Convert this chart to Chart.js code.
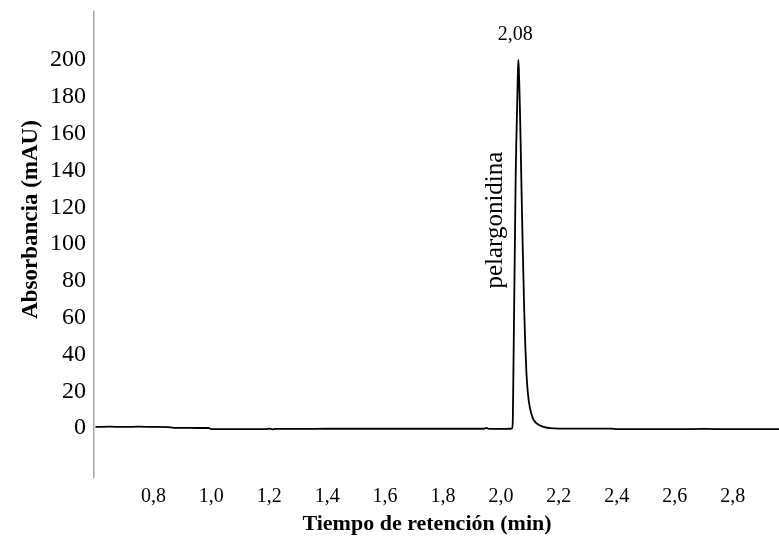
<!DOCTYPE html>
<html>
<head>
<meta charset="utf-8">
<script src="https://cdn.jsdelivr.net/npm/chart.js@4.4.0/dist/chart.umd.min.js"></script>
<style>
  html, body { margin: 0; padding: 0; background: #ffffff; }
  #wrap { width: 779px; height: 544px; position: relative; }
</style>
</head>
<body>
<div id="wrap"><canvas id="c" width="779" height="544"></canvas></div>
<script>
// Retention time (min)
const retentionTimes = [
  0.600, 0.650, 0.700, 0.750, 0.800, 0.850, 0.870, 0.900, 0.950, 0.990, 1.000,
  1.100, 1.190, 1.200, 1.210, 1.220, 1.300, 1.400, 1.500, 1.600, 1.700, 1.800,
  1.900, 1.940, 1.950, 1.960, 2.000, 2.030, 2.039, 2.041, 2.043, 2.045, 2.047,
  2.049, 2.051, 2.053, 2.056, 2.058, 2.060, 2.062, 2.064, 2.066, 2.068, 2.070,
  2.072, 2.075, 2.080, 2.084, 2.088, 2.093, 2.100, 2.110, 2.120, 2.135, 2.150,
  2.170, 2.200, 2.300, 2.380, 2.400, 2.500, 2.600, 2.700, 2.800, 2.900, 2.960
];
// Absorbance (mAU)
const absorbance = [
  0.7, 0.8, 0.7, 0.8, 0.7, 0.6, 0.2, 0.2, 0.1, 0.1, -0.5,
  -0.5, -0.5, -0.2, -0.6, -0.4, -0.4, -0.3, -0.3, -0.3, -0.3, -0.3,
  -0.3, -0.3, 0.1, -0.4, -0.4, -0.3, 0.0, 5, 30, 58, 85,
  112, 138, 155, 175, 190, 200, 194, 183, 170, 155, 138,
  122, 100, 66, 45, 30, 19, 11, 5.5, 3, 1.5, 0.6,
  0.0, -0.2, -0.2, -0.2, -0.5, -0.5, -0.5, -0.4, -0.5, -0.5, -0.5
];
// Axis ticks
const xTicks = [0.8, 1.0, 1.2, 1.4, 1.6, 1.8, 2.0, 2.2, 2.4, 2.6, 2.8];
const yTicks = [0, 20, 40, 60, 80, 100, 120, 140, 160, 180, 200];
// Texts
const peakLabel = '2,08';
const compoundName = 'pelargonidina';
const xTitle = 'Tiempo de retención (min)';
const yTitle = 'Absorbancia (mAU)';

const points = retentionTimes.map((t, i) => ({ x: t, y: absorbance[i] }));
const serif = '"Liberation Serif", "Times New Roman", serif';

const annotatePlugin = {
  id: 'annotate',
  afterDatasetsDraw(chart) {
    const { ctx, scales, chartArea } = chart;
    let iMax = 0;
    absorbance.forEach((v, i) => { if (v > absorbance[iMax]) iMax = i; });
    const px = scales.x.getPixelForValue(retentionTimes[iMax]);
    const py = scales.y.getPixelForValue(absorbance[iMax]);
    ctx.save();
    ctx.fillStyle = '#000';
    // peak retention time label
    ctx.font = '20px ' + serif;
    ctx.textAlign = 'center';
    ctx.textBaseline = 'middle';
    ctx.fillText(peakLabel, px - 3, py - 25);
    // compound name, rotated
    ctx.save();
    const midY = scales.y.getPixelForValue(absorbance[iMax] * 0.565);
    ctx.translate(px - 23, midY);
    ctx.rotate(-Math.PI / 2);
    ctx.font = '25px ' + serif;
    ctx.fillText(compoundName, 0, 0);
    ctx.restore();
    // axis titles
    ctx.font = 'bold 22px ' + serif;
    ctx.textBaseline = 'middle';
    ctx.fillText(xTitle, chartArea.left + 333, chartArea.bottom + 47);
    ctx.save();
    ctx.translate(chartArea.left - 57, (chartArea.top + chartArea.bottom) / 2 - 25);
    ctx.rotate(-Math.PI / 2);
    ctx.font = 'bold 23px ' + serif;
    ctx.textBaseline = 'alphabetic';
    ctx.fillText(yTitle, 0, 0);
    ctx.restore();
    ctx.restore();
  }
};

new Chart(document.getElementById('c'), {
  type: 'line',
  data: {
    datasets: [{
      data: points,
      borderColor: '#000000',
      borderWidth: 1.8,
      pointRadius: 0,
      cubicInterpolationMode: 'monotone',
      fill: false
    }]
  },
  options: {
    responsive: false,
    animation: false,
    devicePixelRatio: 1,
    layout: { padding: { top: 12, right: 0, bottom: 0, left: 0 } },
    plugins: { legend: { display: false }, tooltip: { enabled: false } },
    scales: {
      x: {
        type: 'linear',
        min: 0.595,
        max: 2.96,
        afterBuildTicks(scale) { scale.ticks = xTicks.map(v => ({ value: v })); },
        afterFit(scale) { scale.height = 67; scale.paddingLeft = 0; scale.paddingRight = 0; },
        grid: { display: false, drawTicks: false },
        border: { display: false },
        ticks: {
          color: '#000',
          font: { family: serif, size: 20 },
          padding: 8,
          maxRotation: 0,
          autoSkip: false,
          callback: v => v.toFixed(1).replace('.', ',')
        },
        title: { display: false, text: xTitle }
      },
      y: {
        min: -26.5,
        max: 226,
        afterBuildTicks(scale) { scale.ticks = yTicks.map(v => ({ value: v })); },
        afterFit(scale) { scale.width = 94; scale.paddingTop = 0; scale.paddingBottom = 0; },
        grid: { display: false, drawTicks: false },
        border: { display: true, color: '#a6a6a6', width: 1.5 },
        ticks: {
          color: '#000',
          font: { family: serif, size: 24 },
          padding: 8,
          autoSkip: false,
          callback: v => String(v)
        },
        title: { display: false, text: yTitle }
      }
    }
  },
  plugins: [annotatePlugin]
});
</script>
</body>
</html>
